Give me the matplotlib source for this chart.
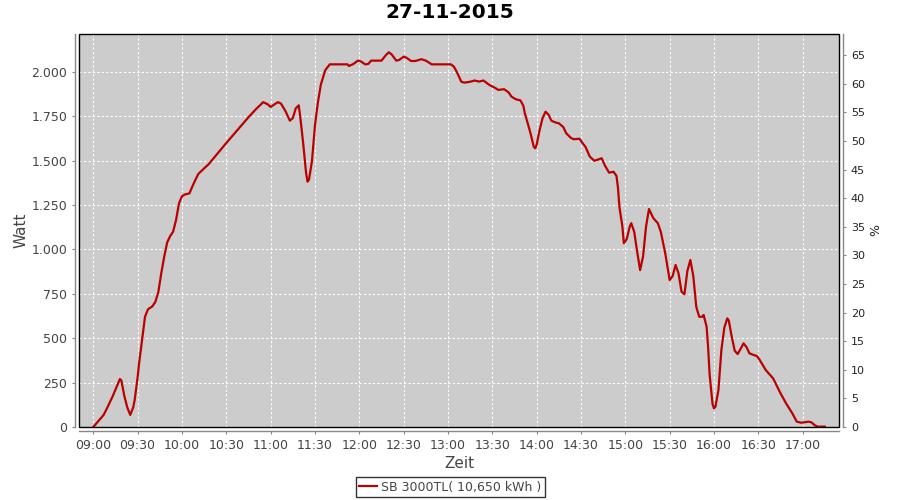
import matplotlib
matplotlib.use("Agg")
import matplotlib.pyplot as plt
import matplotlib.dates as mdates
import pandas as pd
from matplotlib.patches import Rectangle
from matplotlib.ticker import FuncFormatter, MultipleLocator

DAY = "2015-11-27"
TITLE = "27-11-2015"
SERIES = "SB 3000TL( 10,650 kWh )"

times = [
    "09:00", "09:07", "09:10", "09:13", "09:18", "09:19", "09:21", "09:23", "09:25", "09:27",
    "09:28", "09:30", "09:31", "09:33", "09:35", "09:37", "09:40", "09:42", "09:44", "09:46",
    "09:48", "09:50", "09:52", "09:54", "09:56", "09:58", "10:00", "10:02", "10:05", "10:08",
    "10:11", "10:15", "10:18", "10:30", "10:45", "10:50", "10:55", "10:58", "11:00", "11:03",
    "11:05", "11:07", "11:10", "11:13", "11:15", "11:17", "11:19", "11:20", "11:22", "11:24",
    "11:25", "11:26", "11:28", "11:30", "11:32", "11:34", "11:37", "11:40", "11:52", "11:53",
    "11:56", "11:59", "12:01", "12:04", "12:06", "12:08", "12:15", "12:18", "12:20", "12:22",
    "12:25", "12:27", "12:30", "12:32", "12:35", "12:38", "12:42", "12:45", "12:49", "13:02",
    "13:04", "13:06", "13:09", "13:11", "13:15", "13:18", "13:21", "13:24", "13:28", "13:32",
    "13:34", "13:38", "13:41", "13:43", "13:46", "13:49", "13:51", "13:52", "13:54", "13:56",
    "13:58", "13:59", "14:00", "14:02", "14:04", "14:06", "14:08", "14:10", "14:13", "14:15",
    "14:18", "14:20", "14:23", "14:25", "14:29", "14:31", "14:33", "14:36", "14:39", "14:41",
    "14:44", "14:46", "14:49", "14:52", "14:54", "14:55", "14:56", "14:58", "14:59", "15:01",
    "15:03", "15:04", "15:06", "15:08", "15:10", "15:12", "15:14", "15:16", "15:19", "15:22",
    "15:24", "15:27", "15:30", "15:32", "15:34", "15:36", "15:38", "15:40", "15:42", "15:44",
    "15:46", "15:48", "15:50", "15:52", "15:53", "15:55", "15:56", "15:57", "15:59", "16:00",
    "16:01", "16:03", "16:05", "16:07", "16:09", "16:10", "16:12", "16:14", "16:16", "16:18",
    "16:20", "16:22", "16:24", "16:27", "16:29", "16:31", "16:35", "16:40", "16:45", "16:49",
    "16:53", "16:56", "16:59", "17:04", "17:06", "17:08", "17:10", "17:15",
]
watts = [
    0, 68, 118, 171, 270, 262, 175, 110, 68, 110,
    152, 280, 359, 490, 621, 663, 680, 705, 760, 866,
    960, 1040, 1075, 1100, 1166, 1260, 1300, 1310, 1316, 1373,
    1425, 1457, 1480, 1600, 1745, 1790, 1830, 1818, 1803, 1820,
    1830, 1822, 1780, 1726, 1740, 1795, 1812, 1750, 1600, 1430,
    1382, 1395, 1500, 1700, 1830, 1930, 2011, 2043, 2043, 2034,
    2045, 2064, 2060, 2043, 2045, 2064, 2064, 2095, 2111, 2098,
    2064, 2068, 2086, 2080, 2062, 2062, 2072, 2064, 2043, 2043,
    2030, 2000, 1945, 1940, 1945, 1952, 1946, 1952, 1927, 1910,
    1899, 1903, 1885, 1861, 1846, 1840, 1810, 1767, 1710, 1650,
    1580, 1570, 1590, 1673, 1740, 1776, 1760, 1725, 1715, 1711,
    1690, 1655, 1630, 1621, 1624, 1600, 1579, 1523, 1500, 1505,
    1514, 1476, 1433, 1438, 1415, 1350, 1240, 1130, 1035, 1060,
    1130, 1148, 1100, 988, 884, 960, 1128, 1228, 1176, 1148,
    1100, 979, 828, 850, 913, 866, 763, 748, 880, 941,
    850, 677, 621, 621, 631, 565, 452, 300, 130, 105,
    115, 208, 434, 560, 612, 600, 509, 430, 411, 440,
    471, 450, 415, 405, 400, 377, 321, 274, 190, 130,
    77, 30, 24, 30, 26, 11, 2, 2,
]

x = pd.to_datetime([f"{DAY} {t}" for t in times])

fig = plt.figure(figsize=(9, 5), dpi=100)
ax = fig.add_axes([79 / 900, 1 - 427 / 500, 760 / 900, 393 / 500])
ax.set_facecolor("#cccccc")

ax.plot(x, watts, color="#bb0000", lw=1.6, label=SERIES, zorder=3)

ax.set_xlim(pd.Timestamp(f"{DAY} 08:50:20"), pd.Timestamp(f"{DAY} 17:24:35"))
ax.set_ylim(0, 2214)
ax.xaxis.set_major_locator(mdates.MinuteLocator(byminute=[0, 30]))
ax.xaxis.set_major_formatter(mdates.DateFormatter("%H:%M"))
ax.yaxis.set_major_locator(MultipleLocator(250))
ax.yaxis.set_major_formatter(FuncFormatter(lambda v, p: f"{int(v):,}".replace(",", ".")))
ax.grid(True, color="white", lw=0.8, ls=(0, (2, 2)))

ax2 = ax.twinx()
ax2.set_ylim(0, 68.7)
ax2.yaxis.set_major_locator(MultipleLocator(5))

# black outline of the plot area, gray offset axis lines
ax.add_patch(Rectangle((0, 0), 1, 1, transform=ax.transAxes, fill=False,
                       ec="black", lw=1, zorder=5, clip_on=False))
for a in (ax, ax2):
    for s in a.spines.values():
        s.set_visible(False)
for side, a in (("left", ax), ("bottom", ax), ("right", ax2)):
    a.spines[side].set_visible(True)
    a.spines[side].set_position(("outward", 3))
    a.spines[side].set_color("#888888")
    a.spines[side].set_linewidth(1)

ax.tick_params(axis="both", colors="#888888", labelcolor="#444444",
               labelsize=9, length=2, width=0.8)
ax2.tick_params(axis="y", colors="#888888", labelcolor="#222222",
                labelsize=8, length=2, width=0.8)

ax.set_xlabel("Zeit", fontsize=11, color="#444444", labelpad=3)
ax.set_ylabel("Watt", fontsize=11, color="#444444", labelpad=2)
ax2.set_ylabel("%", fontsize=9, color="#222222", labelpad=3)
fig.suptitle(TITLE, fontsize=14.5, fontweight="bold", y=0.995)

leg = fig.legend(loc="center", bbox_to_anchor=(0.5, 0.026), fontsize=9,
                 frameon=True, fancybox=False, handlelength=1.5,
                 borderpad=0.25, handletextpad=0.3, labelcolor="#444444")
leg.get_frame().set_edgecolor("black")
leg.get_frame().set_linewidth(1)

plt.savefig("out.png", dpi=100)
